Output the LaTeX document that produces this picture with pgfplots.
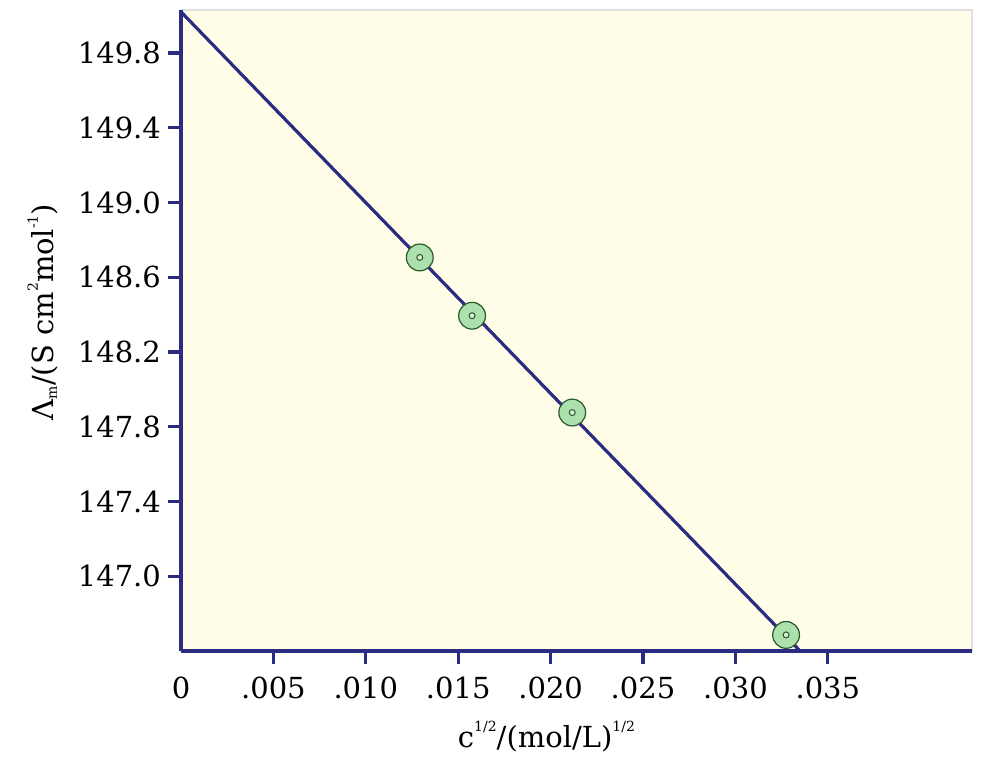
\documentclass[border=0pt]{standalone}
\usepackage{fontspec}
\setmainfont{DejaVu Serif}
\usepackage{pgfplots}
\pgfplotsset{compat=1.18}
\definecolor{navy}{RGB}{42,44,130}
\definecolor{paper}{RGB}{255,253,232}
\definecolor{dotfill}{RGB}{172,224,172}
\definecolor{dotedge}{RGB}{40,88,44}
\newcommand{\tinysup}[1]{\raisebox{0.55em}{\fontsize{7}{7}\selectfont #1}}
\newcommand{\tinysub}[1]{\raisebox{-0.1em}{\fontsize{7}{7}\selectfont #1}}

\begin{document}
\begin{tikzpicture}
% page frame, same proportions as the reference
\path (-90.5pt,-53.5pt) rectangle (403pt,325.5pt);
\begin{axis}[
    scale only axis,
    width=395.5pt, height=320.5pt,
    xmin=0, xmax=0.0428,
    ymin=146.6, ymax=150.03,
    axis x line*=bottom, axis y line*=left,
    axis line style={navy, line width=1.6pt},
    axis background/.style={fill=paper, draw=black!12, line width=1pt},
    scaled x ticks=false, scaled y ticks=false,
    xtick={0.005,0.010,0.015,0.020,0.025,0.030,0.035},
    xticklabels={.005,.010,.015,.020,.025,.030,.035},
    extra x ticks={0}, extra x tick labels={0},
    extra x tick style={major tick length=0pt, xticklabel style={yshift=-6.5pt}},
    ytick={147.0,147.4,147.8,148.2,148.6,149.0,149.4,149.8},
    yticklabel style={/pgf/number format/fixed, /pgf/number format/fixed zerofill,
      /pgf/number format/precision=1},
    /pgf/number format/assume math mode=true,
    tick align=outside, major tick length=6.5pt,
    tick style={navy, line width=1.6pt},
    tick label style={font=\fontsize{14.5}{17}\selectfont, text=black},
    xticklabel style={yshift=-3pt},
    xlabel={c\tinysup{1/2}/(mol/L)\tinysup{1/2}},
    ylabel={Λ\tinysub{m}/(S cm\tinysup{2}mol\tinysup{-1})},
    every axis x label/.style={at={(axis description cs:0.462,-0.134)}, anchor=center,
      font=\fontsize{14.5}{17}\selectfont},
    every axis y label/.style={at={(axis description cs:-0.1745,0.529)}, anchor=center,
      rotate=90, font=\fontsize{14.5}{17}\selectfont},
    clip=false,
  ]
  \addplot[navy, line width=1.6pt] coordinates {(0,150.02) (0.0335,146.6)};
  \addplot[only marks, mark=*, mark size=6.7pt,
    mark options={fill=dotfill, draw=dotedge, line width=0.6pt}]
    coordinates {(0.01292,148.706) (0.01575,148.394) (0.02117,147.876) (0.03274,146.686)};
  \addplot[only marks, mark=*, mark size=1.5pt,
    mark options={fill=dotfill!50, draw=dotedge, line width=0.5pt}]
    coordinates {(0.01292,148.706) (0.01575,148.394) (0.02117,147.876) (0.03274,146.686)};
\end{axis}
\end{tikzpicture}
\end{document}
